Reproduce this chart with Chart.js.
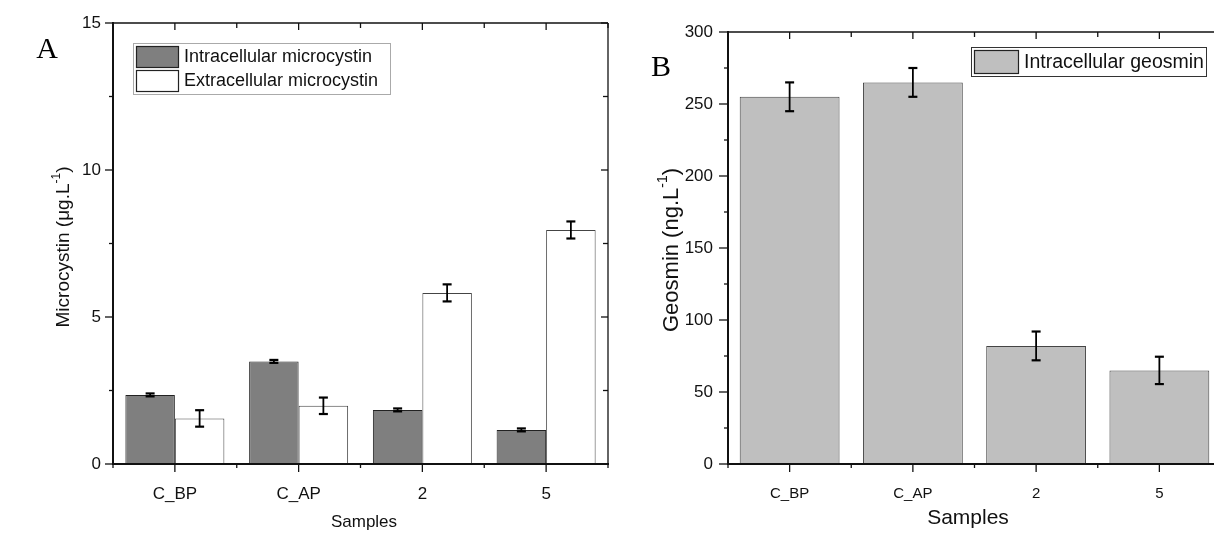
<!DOCTYPE html>
<html><head><meta charset="utf-8">
<script src="https://cdn.jsdelivr.net/npm/chart.js@4.4.1/dist/chart.umd.min.js"></script>
<style>
html,body{margin:0;padding:0;background:#fff;width:1214px;height:533px;overflow:hidden;}
#wrapA{position:absolute;left:0;top:0;width:620px;height:533px;}
#wrapB{position:absolute;left:620px;top:0;width:610px;height:533px;}
canvas{display:block;}
</style></head><body>
<div id="wrapA"><canvas id="cA" width="620" height="533"></canvas></div>
<div id="wrapB"><canvas id="cB" width="610" height="533"></canvas></div>
<script>
// ---- data ----
const categories = ['C_BP', 'C_AP', '2', '5'];
const intraMicrocystin = [2.35, 3.49, 1.84, 1.16];
const intraMicrocystinErr = [0.05, 0.05, 0.05, 0.05];
const extraMicrocystin = [1.55, 1.98, 5.82, 7.96];
const extraMicrocystinErr = [0.28, 0.28, 0.29, 0.29];
const intraGeosmin = [255, 265, 82, 65];
const intraGeosminErr = [10, 10, 10, 9.5];
const microcystinTickLabels = [0, 5, 10, 15];
const geosminTickLabels = [0, 50, 100, 150, 200, 250, 300];

const FONT = '"Liberation Sans", Arial, sans-serif';

function line(ctx, x1, y1, x2, y2) {
  ctx.beginPath(); ctx.moveTo(x1, y1); ctx.lineTo(x2, y2); ctx.stroke();
}

const frameTicks = {
  id: 'frameTicks',
  afterDatasetsDraw(chart, args, o) {
    const {ctx, chartArea: {left, right, top, bottom}, scales: {x, y}} = chart;
    ctx.save();
    ctx.strokeStyle = '#111';
    ctx.lineWidth = 1.3;
    line(ctx, left, top, right, top);
    line(ctx, right, top, right, bottom);
    ctx.lineWidth = 2;
    line(ctx, left, top - 1, left, bottom + 1);
    line(ctx, left - 1, bottom, right + 1, bottom);
    ctx.lineWidth = 1.3;
    y.ticks.forEach(t => {
      const py = y.getPixelForValue(t.value);
      const major = o.labels.includes(t.value);
      const L = major ? o.major : 4;
      line(ctx, left - L, py, left, py);
      line(ctx, right - (major ? 7 : 5), py, right, py);
    });
    const n = x.ticks.length;
    for (let i = 0; i < n; i++) {
      const px = x.getPixelForValue(i);
      line(ctx, px, bottom, px, bottom + 8);
      line(ctx, px, top, px, top + 7);
    }
    for (let i = 0; i <= n; i++) {
      const px = x.getPixelForValue(i - 0.5);
      line(ctx, px, bottom, px, bottom + 4);
      line(ctx, px, top, px, top + 5);
    }
    ctx.restore();
  }
};

const errorBars = {
  id: 'errorBars',
  afterDatasetsDraw(chart, args, o) {
    const {ctx, scales: {y}} = chart;
    ctx.save();
    ctx.strokeStyle = '#000';
    chart.data.datasets.forEach((ds, di) => {
      const meta = chart.getDatasetMeta(di);
      const errs = o.errors[di];
      meta.data.forEach((bar, i) => {
        const v = ds.data[i], e = errs[i];
        const yt = y.getPixelForValue(v + e), yb = y.getPixelForValue(v - e);
        const cx = bar.x, w = o.cap;
        ctx.lineWidth = 1.8;
        line(ctx, cx, yt, cx, yb);
        ctx.lineWidth = 2.2;
        line(ctx, cx - w, yt, cx + w, yt);
        line(ctx, cx - w, yb, cx + w, yb);
      });
    });
    ctx.restore();
  }
};

function drawSup(ctx, main, sup, tail, x, y, size, rotate) {
  ctx.save();
  ctx.translate(x, y);
  if (rotate) ctx.rotate(-Math.PI / 2);
  ctx.fillStyle = '#111';
  ctx.textBaseline = 'middle';
  ctx.textAlign = 'left';
  ctx.font = size + 'px ' + FONT;
  const w1 = ctx.measureText(main).width, w3 = ctx.measureText(tail).width;
  ctx.font = Math.round(size * 0.62) + 'px ' + FONT;
  const w2 = sup ? ctx.measureText(sup).width : 0;
  let cx = -(w1 + w2 + w3) / 2;
  ctx.font = size + 'px ' + FONT;
  ctx.fillText(main, cx, 0); cx += w1;
  if (sup) {
    ctx.font = Math.round(size * 0.62) + 'px ' + FONT;
    ctx.fillText(sup, cx, -size * 0.4); cx += w2;
  }
  ctx.font = size + 'px ' + FONT;
  ctx.fillText(tail, cx, 0);
  ctx.restore();
}

const decor = {
  id: 'decor',
  afterDraw(chart, args, o) {
    const ctx = chart.ctx;
    ctx.save();
    ctx.fillStyle = '#000';
    ctx.font = o.letter.size + 'px "Liberation Serif", "Times New Roman", serif';
    ctx.textAlign = 'center'; ctx.textBaseline = 'middle';
    ctx.fillText(o.letter.text, o.letter.x, o.letter.y);
    const yt = o.yTitle;
    drawSup(ctx, yt.main, yt.sup, yt.tail, yt.x, yt.y, yt.size, true);
    const xt = o.xTitle;
    drawSup(ctx, xt.main, '', '', xt.x, xt.y, xt.size, false);
    const L = o.legend;
    ctx.fillStyle = '#fff';
    ctx.fillRect(L.x, L.y, L.w, L.h);
    ctx.strokeStyle = L.border; ctx.lineWidth = 1;
    ctx.strokeRect(L.x + 0.5, L.y + 0.5, L.w, L.h);
    chart.data.datasets.forEach((ds, i) => {
      const sy = L.y + L.pad + i * L.rowH;
      ctx.fillStyle = ds.backgroundColor;
      ctx.fillRect(L.x + 3, sy, L.sw, L.rowH - 3);
      ctx.strokeStyle = '#222'; ctx.lineWidth = 1.2;
      ctx.strokeRect(L.x + 3.5, sy + 0.5, L.sw, L.rowH - 3);
      ctx.fillStyle = '#111';
      ctx.font = L.size + 'px ' + FONT;
      ctx.textAlign = 'left'; ctx.textBaseline = 'middle';
      ctx.fillText(ds.label, L.x + L.sw + 9, sy + (L.rowH - 3) / 2 + 1);
    });
    ctx.restore();
  }
};

function yTickCb(labels) {
  return function (v) { return labels.includes(v) ? String(v) : ''; };
}

// ---- Panel A ----
new Chart(document.getElementById('cA'), {
  type: 'bar',
  data: {
    labels: categories,
    datasets: [
      {label: 'Intracellular microcystin', data: intraMicrocystin, backgroundColor: '#7f7f7f', borderColor: '#222', borderWidth: 1},
      {label: 'Extracellular microcystin', data: extraMicrocystin, backgroundColor: '#ffffff', borderColor: '#444', borderWidth: 1}
    ]
  },
  options: {
    responsive: false, animation: false,
    layout: {padding: {left: 0, top: 23, right: 12, bottom: 0}},
    categoryPercentage: 0.8, barPercentage: 1.0,
    scales: {
      x: {
        grid: {display: false, drawTicks: false}, border: {display: false},
        ticks: {font: {family: FONT, size: 17}, color: '#111', padding: 20, maxRotation: 0},
        afterFit(s) { s.height = 69; }
      },
      y: {
        min: 0, max: 15,
        grid: {display: false, drawTicks: false}, border: {display: false},
        ticks: {stepSize: 2.5, autoSkip: false, font: {family: FONT, size: 17}, color: '#111', padding: 12, callback: yTickCb(microcystinTickLabels)},
        afterFit(s) { s.width = 113; }
      }
    },
    plugins: {
      legend: {display: false}, tooltip: {enabled: false},
      frameTicks: {labels: microcystinTickLabels, major: 8},
      errorBars: {errors: [intraMicrocystinErr, extraMicrocystinErr], cap: 4.5},
      decor: {
        letter: {text: 'A', x: 47, y: 50, size: 30},
        yTitle: {main: 'Microcystin (\u03bcg.L', sup: '-1', tail: ')', x: 64, y: 247, size: 19},
        xTitle: {main: 'Samples', x: 364, y: 522, size: 17},
        legend: {x: 133, y: 43, w: 257, h: 51, pad: 3, rowH: 24, sw: 42, size: 18, border: '#aaa'}
      }
    }
  },
  plugins: [frameTicks, errorBars, decor]
});

// ---- Panel B ----
new Chart(document.getElementById('cB'), {
  type: 'bar',
  data: {
    labels: categories,
    datasets: [
      {label: 'Intracellular geosmin', data: intraGeosmin, backgroundColor: '#bfbfbf', borderColor: '#444', borderWidth: 1}
    ]
  },
  options: {
    responsive: false, animation: false,
    layout: {padding: {left: 0, top: 32, right: 9, bottom: 0}},
    categoryPercentage: 0.81, barPercentage: 1.0,
    scales: {
      x: {
        grid: {display: false, drawTicks: false}, border: {display: false},
        ticks: {font: {family: FONT, size: 15}, color: '#111', padding: 21, maxRotation: 0},
        afterFit(s) { s.height = 69; }
      },
      y: {
        min: 0, max: 300,
        grid: {display: false, drawTicks: false}, border: {display: false},
        ticks: {stepSize: 25, autoSkip: false, font: {family: FONT, size: 17}, color: '#111', padding: 15, callback: yTickCb(geosminTickLabels)},
        afterFit(s) { s.width = 108; }
      }
    },
    plugins: {
      legend: {display: false}, tooltip: {enabled: false},
      frameTicks: {labels: geosminTickLabels, major: 9},
      errorBars: {errors: [intraGeosminErr], cap: 4.5},
      decor: {
        letter: {text: 'B', x: 41, y: 68, size: 30},
        yTitle: {main: 'Geosmin (ng.L', sup: '-1', tail: ')', x: 52, y: 250, size: 22},
        xTitle: {main: 'Samples', x: 348, y: 518, size: 21},
        legend: {x: 351, y: 47, w: 235, h: 29, pad: 3, rowH: 26, sw: 44, size: 19.5, border: '#333'}
      }
    }
  },
  plugins: [frameTicks, errorBars, decor]
});
</script>
</body></html>
